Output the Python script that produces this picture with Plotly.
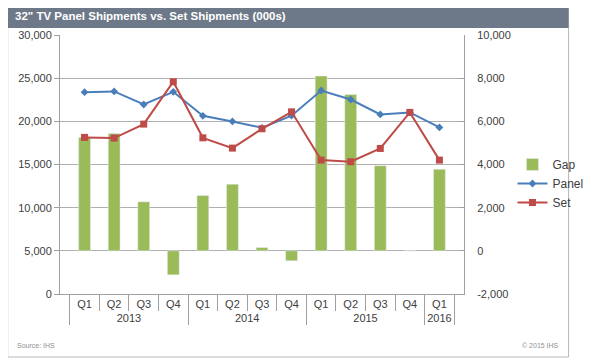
import plotly.graph_objects as go

years = ["2013", "2013", "2013", "2013", "2014", "2014", "2014", "2014",
         "2015", "2015", "2015", "2015", "2016"]
quarters = ["Q1", "Q2", "Q3", "Q4", "Q1", "Q2", "Q3", "Q4",
            "Q1", "Q2", "Q3", "Q4", "Q1"]
panel = [23380, 23460, 21950, 23420, 20640, 19990, 19250, 20650,
         23570, 22530, 20800, 21030, 19290]
set_ship = [18140, 18060, 19680, 24580, 18090, 16900, 19140, 21100,
            15510, 15320, 16860, 21030, 15510]
gap = [5260, 5440, 2270, -1110, 2560, 3090, 150, -460,
       8100, 7240, 3940, 0, 3780]

left_ticks = [0, 5000, 10000, 15000, 20000, 25000, 30000]
left_labels = ["0", "5,000", "10,000", "15,000", "20,000", "25,000", "30,000"]
right_ticks = [-2000, 0, 2000, 4000, 6000, 8000, 10000]
right_labels = ["-2,000", "0", "2,000", "4,000", "6,000", "8,000", "10,000"]

x = [years, quarters]

fig = go.Figure()
fig.add_trace(go.Bar(x=x, y=gap, name="Gap", marker_color="#9bbb59",
                     yaxis="y"))
fig.add_trace(go.Scatter(x=x, y=panel, name="Panel", mode="lines+markers",
                         line=dict(color="#4a7ebb", width=2),
                         marker=dict(symbol="diamond", size=6, color="#4a7ebb"),
                         yaxis="y2"))
fig.add_trace(go.Scatter(x=x, y=set_ship, name="Set", mode="lines+markers",
                         line=dict(color="#be4b48", width=2),
                         marker=dict(symbol="square", size=7, color="#be4b48"),
                         yaxis="y2"))

# The page body adds an 8px offset; figure coordinates are shifted accordingly.
OFF = 8
W, H = 600 - OFF, 362 - OFF
L, R, T, B = 60 - OFF, 485 - OFF, 35 - OFF, 294 - OFF
def px(xp):
    return (xp - OFF - L) / (R - L)
def py(yp):
    return (B - (yp - OFF)) / (B - T)

FAM = "Liberation Sans, Arial, sans-serif"
axis_font = dict(family=FAM, size=11, color="#404040")

fig.update_layout(
    width=W, height=H,
    margin=dict(l=L, r=W - R, t=T, b=H - B),
    paper_bgcolor="white", plot_bgcolor="white",
    bargap=0.6,
    showlegend=True,
    legend=dict(x=px(536), y=py(150), xanchor="left", yanchor="top",
                font=dict(family=FAM, size=12, color="#404040"),
                bgcolor="rgba(0,0,0,0)", tracegroupgap=0, itemwidth=30),
    xaxis=dict(type="multicategory", showline=True, linecolor="#a0a0a0",
               ticks="outside", tickson="boundaries", ticklen=16, tickcolor="#a0a0a0",
               showdividers=True, dividercolor="#a0a0a0", dividerwidth=1,
               tickfont=axis_font, showgrid=False, automargin=False),
    yaxis=dict(side="right", range=[-2000, 10000], tickvals=right_ticks,
               ticktext=right_labels, showgrid=False, zeroline=False,
               showline=True, linecolor="#a0a0a0", ticks="inside",
               ticklen=5, tickcolor="#a0a0a0", tickfont=axis_font,
               ticklabelstandoff=10, automargin=False),
    yaxis2=dict(side="left", overlaying="y", range=[0, 30000], tickvals=left_ticks,
                ticktext=left_labels, showgrid=True, gridcolor="#b0b0b0", gridwidth=1,
                zeroline=False, showline=True, linecolor="#a0a0a0",
                ticks="outside", ticklen=5, tickcolor="#a0a0a0", tickfont=axis_font,
                automargin=False),
    font=dict(family=FAM),
)

# outer border
fig.add_shape(type="rect", xref="paper", yref="paper",
              x0=px(5), x1=px(595), y0=py(357), y1=py(3),
              line=dict(color="#b8b8b8", width=1), fillcolor="rgba(0,0,0,0)",
              layer="below")
# title band
fig.add_shape(type="rect", xref="paper", yref="paper",
              x0=px(5), x1=px(595), y0=py(28), y1=py(3),
              line=dict(width=0), fillcolor="#6d7889", layer="below")
fig.add_annotation(text="<b>32\" TV Panel Shipments vs. Set Shipments (000s)</b>",
                   xref="paper", yref="paper", x=px(11), y=py(15.5),
                   xanchor="left", yanchor="middle", showarrow=False,
                   font=dict(family=FAM, size=11.5, color="white"))
fig.add_annotation(text="Source: IHS", xref="paper", yref="paper",
                   x=px(13), y=py(345), xanchor="left", yanchor="middle",
                   showarrow=False,
                   font=dict(family=FAM, size=7, color="#909090"))
fig.add_annotation(text="© 2015 IHS", xref="paper", yref="paper",
                   x=px(587), y=py(345), xanchor="right", yanchor="middle",
                   showarrow=False,
                   font=dict(family=FAM, size=7, color="#909090"))

fig.write_html("out.html")
